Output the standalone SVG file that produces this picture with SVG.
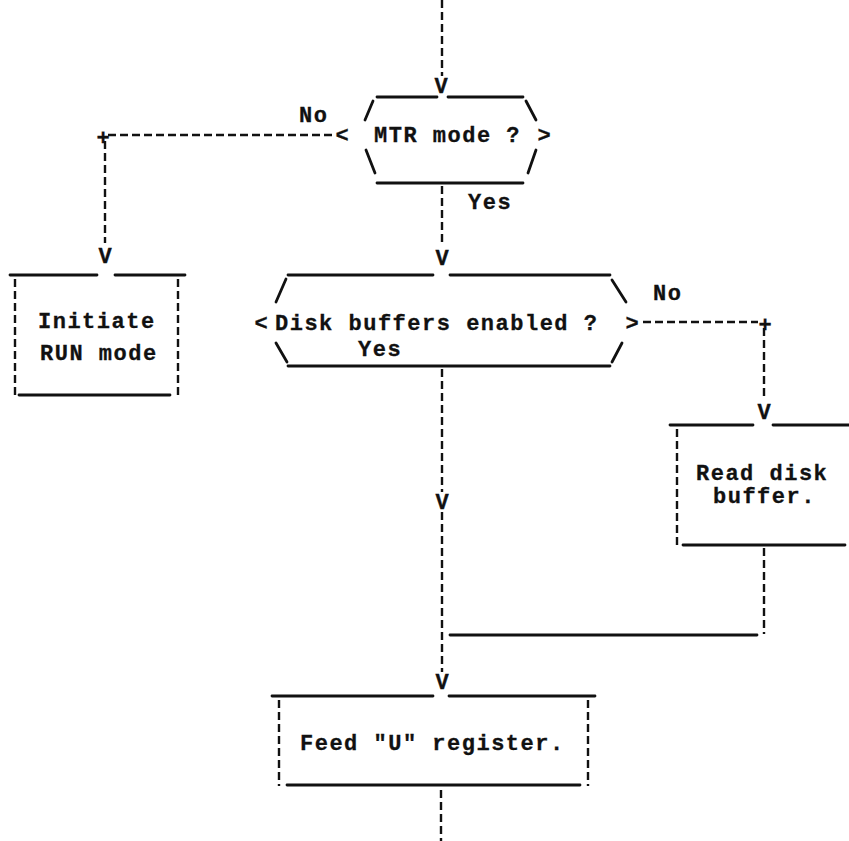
<svg xmlns="http://www.w3.org/2000/svg" width="849" height="841" viewBox="0 0 849 841">
  <style>
    .t { font-family: "Liberation Mono", "DejaVu Sans Mono", monospace; font-weight: bold; font-size: 22px; letter-spacing: 1.5px; fill: #111; stroke: #111; stroke-width: 0.3; }
    .c { font-family: "Liberation Mono", "DejaVu Sans Mono", monospace; font-weight: bold; font-size: 22px; fill: #111; text-anchor: middle; stroke: #111; stroke-width: 0.3; }
    .s { stroke: #111; stroke-width: 2.8; fill: none; stroke-linecap: round; }
    .v { stroke: #111; stroke-width: 2.4; fill: none; stroke-dasharray: 8 4; }
    .h { stroke: #111; stroke-width: 2.4; fill: none; stroke-dasharray: 8 4; }
  </style>
  <rect width="849" height="841" fill="#fff"/>

  <!-- connectors -->
  <g id="connectors">
    <line class="v" x1="442" y1="0" x2="442" y2="76"/>
    <text class="c" x="441" y="93">V</text>

    <line class="h" x1="108" y1="135" x2="336" y2="135"/>
    <text class="c" x="103" y="145">+</text>
    <text class="t" x="299" y="122">No</text>
    <line class="v" x1="105" y1="141" x2="105" y2="243"/>
    <text class="c" x="105" y="263">V</text>

    <line class="v" x1="442" y1="186" x2="442" y2="246"/>
    <text class="t" x="468" y="209">Yes</text>
    <text class="c" x="442" y="265">V</text>

    <line class="h" x1="643" y1="322" x2="758" y2="322"/>
    <text class="c" x="765" y="332">+</text>
    <text class="t" x="653" y="300">No</text>
    <line class="v" x1="764" y1="328" x2="764" y2="400"/>
    <text class="c" x="764" y="419">V</text>

    <text class="t" x="358" y="356">Yes</text>
    <line class="v" x1="442" y1="369" x2="442" y2="492"/>
    <text class="c" x="442" y="509">V</text>
    <line class="v" x1="442" y1="512" x2="442" y2="672"/>

    <line class="v" x1="764" y1="548" x2="764" y2="634"/>
    <line class="s" x1="450" y1="635" x2="757" y2="635"/>

    <text class="c" x="442" y="689">V</text>
    <line class="v" x1="441" y1="790" x2="441" y2="841"/>
  </g>

  <!-- decision: MTR mode -->
  <g id="mtr-mode">
    <line class="s" x1="377" y1="97" x2="437" y2="97"/>
    <line class="s" x1="448" y1="97" x2="523" y2="97"/>
    <line class="s" x1="365" y1="120" x2="373" y2="101"/>
    <line class="s" x1="526" y1="101" x2="536" y2="120"/>
    <text class="c" x="342" y="142">&lt;</text>
    <text class="t" x="374" y="142">MTR mode ?</text>
    <text class="c" x="544" y="142">&gt;</text>
    <line class="s" x1="366" y1="150" x2="375" y2="173"/>
    <line class="s" x1="536" y1="150" x2="528" y2="173"/>
    <line class="s" x1="377" y1="183" x2="523" y2="183"/>
  </g>

  <!-- process: Initiate RUN mode -->
  <g id="initiate-run">
    <line class="s" x1="10" y1="275" x2="97" y2="275"/>
    <line class="s" x1="115" y1="275" x2="185" y2="275"/>
    <line class="v" x1="15" y1="279" x2="15" y2="397"/>
    <line class="v" x1="178" y1="279" x2="178" y2="397"/>
    <line class="s" x1="19" y1="395" x2="170" y2="395"/>
    <text class="t" x="38" y="328">Initiate</text>
    <text class="t" x="40" y="360">RUN mode</text>
  </g>

  <!-- decision: Disk buffers enabled -->
  <g id="disk-buffers">
    <line class="s" x1="288" y1="275" x2="433" y2="275"/>
    <line class="s" x1="450" y1="275" x2="610" y2="275"/>
    <line class="s" x1="276" y1="302" x2="286" y2="279"/>
    <line class="s" x1="612" y1="280" x2="626" y2="302"/>
    <text class="c" x="261" y="330">&lt;</text>
    <text class="t" x="275" y="330">Disk buffers enabled ?</text>
    <text class="c" x="632" y="330">&gt;</text>
    <line class="s" x1="276" y1="343" x2="287" y2="362"/>
    <line class="s" x1="622" y1="343" x2="612" y2="362"/>
    <line class="s" x1="288" y1="366" x2="610" y2="366"/>
  </g>

  <!-- process: Read disk buffer -->
  <g id="read-disk">
    <line class="s" x1="670" y1="425" x2="753" y2="425"/>
    <line class="s" x1="773" y1="425" x2="849" y2="425"/>
    <line class="v" x1="677" y1="429" x2="677" y2="545"/>
    <line class="s" x1="683" y1="545" x2="845" y2="545"/>
    <text class="t" x="696" y="480">Read disk</text>
    <text class="t" x="713" y="503">buffer.</text>
  </g>

  <!-- process: Feed "U" register -->
  <g id="feed-u">
    <line class="s" x1="272" y1="696" x2="433" y2="696"/>
    <line class="s" x1="449" y1="696" x2="595" y2="696"/>
    <line class="v" x1="279" y1="700" x2="279" y2="786"/>
    <line class="v" x1="588" y1="700" x2="588" y2="786"/>
    <line class="s" x1="287" y1="785" x2="580" y2="785"/>
    <text class="t" x="300" y="750">Feed "U" register.</text>
  </g>
</svg>
